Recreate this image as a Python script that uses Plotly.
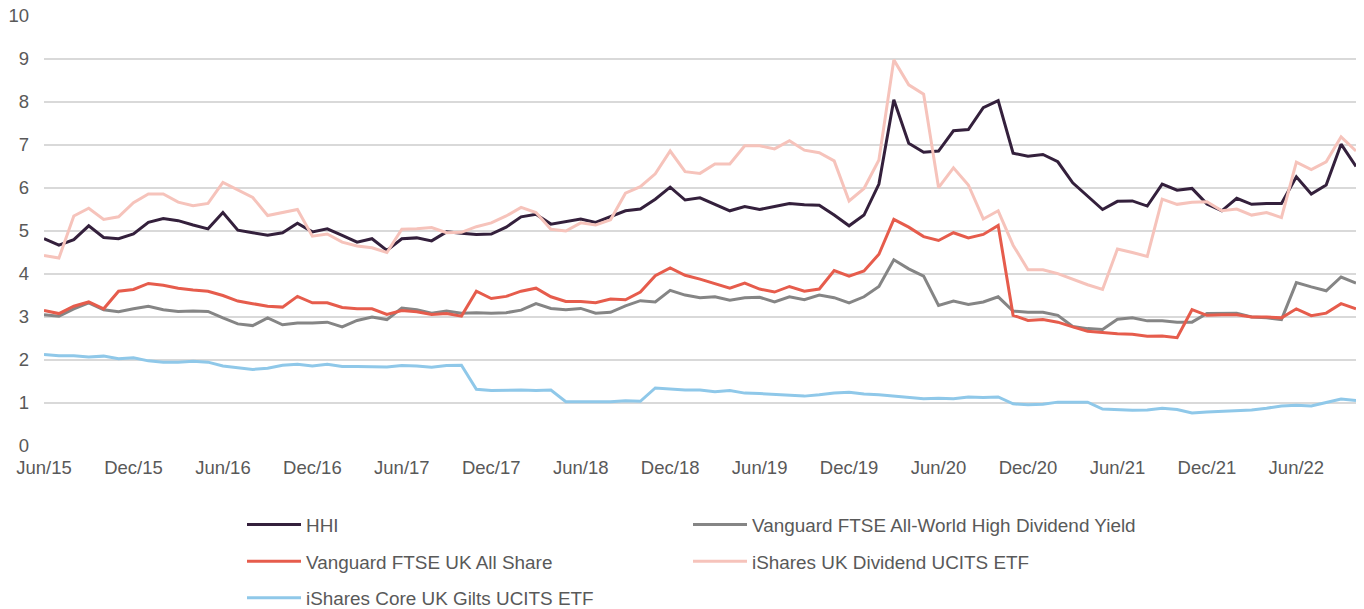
import pandas as pd
import plotly.graph_objects as go

months = list(pd.date_range("2015-06-01", periods=89, freq="MS").strftime("%b/%y"))
tick_labels = months[::6]

hhi = [4.82, 4.67, 4.80, 5.12, 4.85, 4.82, 4.93, 5.20, 5.29, 5.24, 5.14, 5.05, 5.43, 5.02, 4.96, 4.90, 4.96, 5.18, 4.98, 5.05, 4.90, 4.74, 4.82, 4.55, 4.82, 4.84, 4.77, 4.98,
       4.95, 4.92, 4.93, 5.09, 5.33, 5.39, 5.16, 5.22, 5.28, 5.20, 5.33, 5.47, 5.51, 5.74, 6.02, 5.72, 5.77, 5.62, 5.47, 5.57, 5.50, 5.57, 5.64, 5.61, 5.60, 5.37, 5.12, 5.37, 6.09, 8.05,
       7.04, 6.83, 6.86, 7.33, 7.36, 7.87, 8.03, 6.81, 6.74, 6.78, 6.61, 6.12, 5.80, 5.50, 5.69, 5.70, 5.58, 6.09, 5.95, 5.99, 5.63, 5.47, 5.76, 5.62, 5.64, 5.64, 6.26, 5.86, 6.07, 7.02, 6.50]

vanguard_world_hdy = [3.05, 3.02, 3.19, 3.33, 3.17, 3.12, 3.19, 3.25, 3.17, 3.13, 3.14, 3.13, 2.98, 2.84, 2.80, 2.98, 2.82, 2.86, 2.86, 2.88, 2.77, 2.92, 3.00, 2.94, 3.21, 3.17, 3.09, 3.14,
                      3.09, 3.10, 3.09, 3.10, 3.16, 3.31, 3.20, 3.17, 3.20, 3.09, 3.11, 3.26, 3.38, 3.35, 3.62, 3.51, 3.45, 3.47, 3.39, 3.45, 3.46, 3.35, 3.47, 3.40, 3.51, 3.45, 3.33, 3.47, 3.71, 4.33,
                      4.12, 3.95, 3.27, 3.37, 3.29, 3.35, 3.47, 3.14, 3.11, 3.11, 3.04, 2.78, 2.73, 2.71, 2.95, 2.98, 2.91, 2.91, 2.88, 2.88, 3.08, 3.08, 3.09, 3.00, 2.98, 2.94, 3.80, 3.70, 3.61, 3.93, 3.79]

vanguard_uk_all = [3.15, 3.08, 3.25, 3.35, 3.19, 3.60, 3.64, 3.78, 3.74, 3.67, 3.63, 3.60, 3.50, 3.37, 3.31, 3.25, 3.23, 3.48, 3.33, 3.33, 3.22, 3.19, 3.19, 3.06, 3.15, 3.12, 3.06, 3.08,
                   3.02, 3.60, 3.43, 3.48, 3.60, 3.67, 3.47, 3.36, 3.36, 3.33, 3.42, 3.40, 3.58, 3.96, 4.14, 3.97, 3.88, 3.78, 3.67, 3.79, 3.65, 3.58, 3.71, 3.60, 3.65, 4.08, 3.95, 4.07, 4.46, 5.27,
                   5.09, 4.87, 4.78, 4.96, 4.84, 4.92, 5.13, 3.04, 2.92, 2.94, 2.88, 2.77, 2.67, 2.64, 2.61, 2.60, 2.55, 2.56, 2.52, 3.17, 3.04, 3.05, 3.05, 3.00, 3.00, 2.98, 3.19, 3.03, 3.09, 3.31, 3.19]

ishares_uk_div = [4.43, 4.37, 5.35, 5.53, 5.27, 5.33, 5.66, 5.86, 5.86, 5.67, 5.59, 5.64, 6.13, 5.95, 5.78, 5.36, 5.43, 5.50, 4.88, 4.93, 4.74, 4.65, 4.61, 4.50, 5.04, 5.05, 5.08, 4.96,
                  4.97, 5.10, 5.19, 5.35, 5.55, 5.43, 5.04, 5.00, 5.19, 5.14, 5.26, 5.88, 6.03, 6.33, 6.86, 6.38, 6.34, 6.56, 6.56, 6.98, 6.98, 6.91, 7.10, 6.88, 6.82, 6.63, 5.70, 5.99, 6.65, 8.98,
                  8.40, 8.18, 6.01, 6.47, 6.07, 5.28, 5.47, 4.67, 4.10, 4.10, 4.01, 3.88, 3.75, 3.64, 4.58, 4.50, 4.41, 5.74, 5.62, 5.67, 5.68, 5.47, 5.51, 5.37, 5.43, 5.31, 6.60, 6.43, 6.61, 7.19, 6.86]

ishares_gilts = [2.13, 2.10, 2.10, 2.07, 2.09, 2.03, 2.05, 1.98, 1.95, 1.95, 1.97, 1.95, 1.86, 1.82, 1.78, 1.81, 1.88, 1.90, 1.86, 1.90, 1.85, 1.85, 1.84, 1.84, 1.87, 1.86, 1.83, 1.87,
                 1.88, 1.32, 1.29, 1.30, 1.30, 1.29, 1.30, 1.03, 1.03, 1.03, 1.03, 1.05, 1.04, 1.35, 1.32, 1.30, 1.30, 1.26, 1.29, 1.23, 1.22, 1.20, 1.17, 1.16, 1.19, 1.23, 1.25, 1.21, 1.19, 1.16,
                 1.12, 1.10, 1.11, 1.10, 1.14, 1.13, 1.14, 0.98, 0.96, 0.97, 1.02, 1.02, 1.02, 0.86, 0.85, 0.83, 0.84, 0.88, 0.85, 0.77, 0.79, 0.81, 0.83, 0.84, 0.88, 0.93, 0.95, 0.93, 1.01, 1.09, 1.06]

series = [
    ("HHI", hhi, "#34203c", "legend"),
    ("Vanguard FTSE All-World High Dividend Yield", vanguard_world_hdy, "#858585", "legend2"),
    ("Vanguard FTSE UK All Share", vanguard_uk_all, "#e65c4c", "legend"),
    ("iShares UK Dividend UCITS ETF", ishares_uk_div, "#f6c3bb", "legend2"),
    ("iShares Core UK Gilts UCITS ETF", ishares_gilts, "#8fc8e9", "legend"),
]

FONT = "Liberation Sans, Arial, sans-serif"
TEXT = "#595959"

fig = go.Figure()
for name, vals, color, lg in series:
    fig.add_trace(go.Scatter(
        x=months, y=vals, name=name, mode="lines",
        line=dict(color=color, width=3),
        legend=lg, legendgroup=name,
    ))

legend_common = dict(
    orientation="v", traceorder="grouped", tracegroupgap=9,
    font=dict(family=FONT, size=18.9, color=TEXT),
    bgcolor="rgba(0,0,0,0)", borderwidth=0,
    xanchor="left", yanchor="top", itemwidth=54,
)

fig.update_layout(
    width=1364, height=609,
    margin=dict(l=44, r=8, t=16, b=163, autoexpand=False),
    paper_bgcolor="white", plot_bgcolor="white",
    font=dict(family=FONT, size=18.5, color=TEXT),
    showlegend=True,
    legend=dict(x=(242 - 44) / 1312, y=-0.139, **legend_common),
    legend2=dict(x=(688 - 44) / 1312, y=-0.139, **legend_common),
    xaxis=dict(
        type="category", range=[0, 88],
        tickmode="array", tickvals=tick_labels, ticktext=tick_labels,
        showgrid=False, showline=False, zeroline=False, ticks="",
        ticklabelstandoff=8, automargin=False, ticklabeloverflow="allow",
        tickfont=dict(family=FONT, size=18.5, color=TEXT),
    ),
    yaxis=dict(
        range=[0, 10], dtick=1, tick0=0,
        showgrid=True, gridcolor="#d9d9d9", gridwidth=1.5,
        zeroline=False, showline=False, ticks="",
        ticklabelstandoff=14, automargin=False, ticklabeloverflow="allow",
        tickfont=dict(family=FONT, size=18.5, color=TEXT),
    ),
)

fig.write_html("out.html", config={"displayModeBar": False},
               post_script="document.body.style.margin='0';")
